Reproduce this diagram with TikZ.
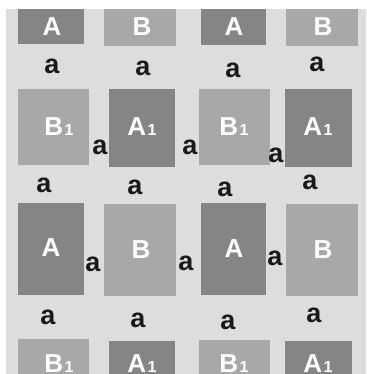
\documentclass[tikz,border=0pt]{standalone}
\usepackage{fontspec}
\setmainfont{Liberation Sans}
\definecolor{bggray}{HTML}{DDDDDD}
\definecolor{darkbox}{HTML}{858585}
\definecolor{lightbox}{HTML}{A8A8A8}
\tikzset{
  darkcell/.style={fill=darkbox,draw=none},
  lightcell/.style={fill=lightbox,draw=none},
  boxlabel/.style={text=white,font=\fontsize{26}{26}\selectfont\bfseries,inner sep=0pt},
  alabel/.style={text=black!90,font=\fontsize{27}{27}\selectfont\bfseries,inner sep=0pt}
}
\newcommand{\one}{\kern1.5pt{\fontsize{16}{16}\selectfont 1}}
\begin{document}
\begin{tikzpicture}[x=1pt,y=-1pt]
\useasboundingbox (0,0) rectangle (366,374);
\fill[white] (0,0) rectangle (366,374);
\fill[bggray] (6,9) rectangle (366,374);
% row 1
\fill[darkcell]  (18,9) rectangle (84,44);
\fill[lightcell] (104,9) rectangle (176,46);
\fill[darkcell]  (201,9) rectangle (266,45);
\fill[lightcell] (286,9) rectangle (358,46);
\node[boxlabel] (r1c1) at (52,27) {A};
\node[boxlabel] (r1c2) at (142,27) {B};
\node[boxlabel] (r1c3) at (234,27) {A};
\node[boxlabel] (r1c4) at (323,27) {B};
% row 2
\fill[lightcell] (18,89) rectangle (89,165);
\fill[darkcell]  (109,89) rectangle (175,167);
\fill[lightcell] (199,89) rectangle (270,165);
\fill[darkcell]  (285,89) rectangle (352,167);
\node[boxlabel] (r2c1) at (59,127) {B\one};
\node[boxlabel] (r2c2) at (142,127) {A\one};
\node[boxlabel] (r2c3) at (234,127) {B\one};
\node[boxlabel] (r2c4) at (318,127) {A\one};
% row 3
\fill[darkcell]  (18,203) rectangle (84,295);
\fill[lightcell] (104,204) rectangle (176,296);
\fill[darkcell]  (201,203) rectangle (266,295);
\fill[lightcell] (286,204) rectangle (358,296);
\node[boxlabel] (r3c1) at (51,248) {A};
\node[boxlabel] (r3c2) at (141,250) {B};
\node[boxlabel] (r3c3) at (234,249) {A};
\node[boxlabel] (r3c4) at (323,250) {B};
% row 4
\fill[lightcell] (18,339) rectangle (89,374);
\fill[darkcell]  (109,341) rectangle (175,374);
\fill[lightcell] (199,340) rectangle (270,374);
\fill[darkcell]  (285,341) rectangle (352,374);
\node[boxlabel] (r4c1) at (59,364) {B\one};
\node[boxlabel] (r4c2) at (142,364) {A\one};
\node[boxlabel] (r4c3) at (234,364) {B\one};
\node[boxlabel] (r4c4) at (318,364) {A\one};
% a labels
\node[alabel] (a11) at (52,66) {a};
\node[alabel] (a12) at (143,68) {a};
\node[alabel] (a13) at (233,70) {a};
\node[alabel] (a14) at (317,64) {a};
\node[alabel] (a21) at (100,147) {a};
\node[alabel] (a22) at (190,147) {a};
\node[alabel] (a23) at (276,155) {a};
\node[alabel] (a31) at (44,185) {a};
\node[alabel] (a32) at (135,187) {a};
\node[alabel] (a33) at (225,189) {a};
\node[alabel] (a34) at (310,182) {a};
\node[alabel] (a41) at (93,264) {a};
\node[alabel] (a42) at (186,263) {a};
\node[alabel] (a43) at (275,258) {a};
\node[alabel] (a51) at (48,317) {a};
\node[alabel] (a52) at (138,320) {a};
\node[alabel] (a53) at (228,322) {a};
\node[alabel] (a54) at (314,315) {a};
\end{tikzpicture}
\end{document}
